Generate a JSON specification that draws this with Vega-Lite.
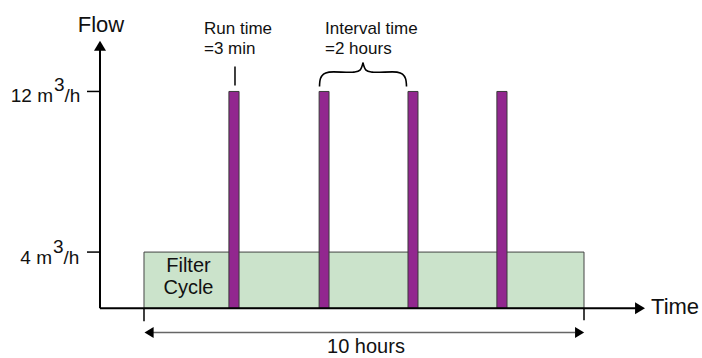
{
  "$schema": "https://vega.github.io/schema/vega-lite/v6.json",
  "width": 702,
  "height": 358,
  "autosize": {"type": "fit", "contains": "padding"},
  "padding": 0,
  "background": "white",
  "config": {"view": {"stroke": null}, "text": {"font": "Liberation Sans", "color": "#111111", "baseline": "alphabetic"}},
  "datasets": {
    "filter": [{"x": 0, "x2": 10, "y": 1.2, "y2": 4}],
    "bars": [
      {"x": 1.93, "x2": 2.16, "y": 1.2, "y2": 12},
      {"x": 3.98, "x2": 4.205, "y": 1.2, "y2": 12},
      {"x": 6.0, "x2": 6.227, "y": 1.2, "y2": 12},
      {"x": 8.02, "x2": 8.25, "y": 1.2, "y2": 12}
    ],
    "axes": [
      {"x": -1, "x2": -1, "y": 1.2, "y2": 14.1},
      {"x": -1, "x2": 11.18, "y": 1.2, "y2": 1.2}
    ],
    "ticks": [
      {"x": -1.295, "x2": -1, "y": 12, "y2": 12},
      {"x": -1.295, "x2": -1, "y": 4, "y2": 4},
      {"x": 0, "x2": 0, "y": 1.2, "y2": 0.56},
      {"x": 10, "x2": 10, "y": 1.2, "y2": 0.6},
      {"x": 2.068, "x2": 2.068, "y": 12.3, "y2": 13.24}
    ],
    "dim": [{"x": 0.2, "x2": 9.8, "y": 0, "y2": 0}],
    "axisArrows": [
      {"x": -1, "y": 14.277, "dir": "up"},
      {"x": 11.273, "y": 1.2, "dir": "right"}
    ],
    "dimArrows": [
      {"x": 0.115, "y": 0, "dir": "left"},
      {"x": 9.9, "y": 0, "dir": "right"}
    ],
    "brace": [
      {"x": 3.989, "y": 12.246, "part": "L", "o": 1},
      {"x": 4.011, "y": 12.642, "part": "L", "o": 2},
      {"x": 4.08, "y": 12.865, "part": "L", "o": 3},
      {"x": 4.205, "y": 12.964, "part": "L", "o": 4},
      {"x": 4.773, "y": 12.964, "part": "L", "o": 5},
      {"x": 4.909, "y": 13.063, "part": "L", "o": 6},
      {"x": 4.977, "y": 13.435, "part": "L", "o": 7},
      {"x": 4.977, "y": 13.435, "part": "R", "o": 1},
      {"x": 5.045, "y": 13.063, "part": "R", "o": 2},
      {"x": 5.182, "y": 12.964, "part": "R", "o": 3},
      {"x": 5.75, "y": 12.964, "part": "R", "o": 4},
      {"x": 5.875, "y": 12.865, "part": "R", "o": 5},
      {"x": 5.943, "y": 12.642, "part": "R", "o": 6},
      {"x": 5.966, "y": 12.246, "part": "R", "o": 7}
    ],
    "flowLabel": [{"x": -0.977, "y": 14.97, "t": "Flow"}],
    "timeLabel": [{"x": 11.523, "y": 0.904, "t": "Time"}],
    "center20": [
      {"x": 5.045, "y": -1.028, "t": "10 hours"},
      {"x": 1.011, "y": 2.984, "t": "Filter"},
      {"x": 1.011, "y": 1.894, "t": "Cycle"}
    ],
    "notes": [
      {"x": 1.364, "y": 14.871, "t": "Run time"},
      {"x": 1.364, "y": 13.881, "t": "=3 min"},
      {"x": 4.114, "y": 14.871, "t": "Interval time"},
      {"x": 4.114, "y": 13.881, "t": "=2 hours"}
    ],
    "tickRight": [
      {"x": -2.068, "y": 11.453, "t": "12 m"},
      {"x": -2.091, "y": 3.43, "t": "4 m"}
    ],
    "tickLeft": [
      {"x": -2.045, "y": 12.0, "t": "3"},
      {"x": -1.807, "y": 11.453, "t": "/h"},
      {"x": -2.068, "y": 3.975, "t": "3"},
      {"x": -1.83, "y": 3.43, "t": "/h"}
    ]
  },
  "encoding": {
    "x": {"field": "x", "type": "quantitative", "scale": {"domain": [-3.2727, 12.6818], "nice": false, "zero": false}, "axis": null},
    "y": {"field": "y", "type": "quantitative", "scale": {"domain": [-1.176, 16.555], "nice": false, "zero": false}, "axis": null}
  },
  "layer": [
    {"data": {"name": "filter"}, "mark": {"type": "rect", "fill": "#cbe3cb", "stroke": "#444444", "strokeWidth": 1},
     "encoding": {"x2": {"field": "x2"}, "y2": {"field": "y2"}}},
    {"data": {"name": "bars"}, "mark": {"type": "rect", "fill": "#92278f", "stroke": "#3a3a3a", "strokeWidth": 1},
     "encoding": {"x2": {"field": "x2"}, "y2": {"field": "y2"}}},
    {"data": {"name": "axes"}, "mark": {"type": "rule", "color": "#000000", "strokeWidth": 2},
     "encoding": {"x2": {"field": "x2"}, "y2": {"field": "y2"}}},
    {"data": {"name": "ticks"}, "mark": {"type": "rule", "color": "#000000", "strokeWidth": 1.5},
     "encoding": {"x2": {"field": "x2"}, "y2": {"field": "y2"}}},
    {"data": {"name": "dim"}, "mark": {"type": "rule", "color": "#666666", "strokeWidth": 1.5},
     "encoding": {"x2": {"field": "x2"}, "y2": {"field": "y2"}}},
    {"data": {"name": "axisArrows"}, "mark": {"type": "point", "filled": true, "color": "#000000", "opacity": 1, "size": 144},
     "encoding": {"shape": {"field": "dir", "type": "nominal", "legend": null,
       "scale": {"domain": ["up", "right", "left"], "range": ["M0,-0.83L1,0.83L-1,0.83Z", "M0.83,0L-0.83,1L-0.83,-1Z", "M-0.83,0L0.83,-1L0.83,1Z"]}}}},
    {"data": {"name": "dimArrows"}, "mark": {"type": "point", "filled": true, "color": "#000000", "opacity": 1, "size": 121},
     "encoding": {"shape": {"field": "dir", "type": "nominal", "legend": null,
       "scale": {"domain": ["up", "right", "left"], "range": ["M0,-0.83L1,0.83L-1,0.83Z", "M0.83,0L-0.83,1L-0.83,-1Z", "M-0.83,0L0.83,-1L0.83,1Z"]}}}},
    {"data": {"name": "brace"}, "mark": {"type": "line", "color": "#000000", "strokeWidth": 1.6, "interpolate": "catmull-rom"},
     "encoding": {"detail": {"field": "part"}, "order": {"field": "o", "type": "quantitative"}}},
    {"data": {"name": "flowLabel"}, "mark": {"type": "text", "align": "center", "fontSize": 22},
     "encoding": {"text": {"field": "t"}}},
    {"data": {"name": "timeLabel"}, "mark": {"type": "text", "align": "left", "fontSize": 22},
     "encoding": {"text": {"field": "t"}}},
    {"data": {"name": "center20"}, "mark": {"type": "text", "align": "center", "fontSize": 20},
     "encoding": {"text": {"field": "t"}}},
    {"data": {"name": "notes"}, "mark": {"type": "text", "align": "left", "fontSize": 17},
     "encoding": {"text": {"field": "t"}}},
    {"data": {"name": "tickRight"}, "mark": {"type": "text", "align": "right", "fontSize": 19},
     "encoding": {"text": {"field": "t"}}},
    {"data": {"name": "tickLeft"}, "mark": {"type": "text", "align": "left", "fontSize": 19},
     "encoding": {"text": {"field": "t"}}}
  ]
}
